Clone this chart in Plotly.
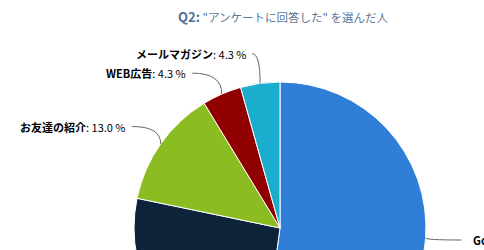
import math
import plotly.graph_objects as go

labels = ["Google検索", "Yahoo!検索", "お友達の紹介", "WEB広告", "メールマガジン"]
values = [12, 6, 3, 1, 1]
colors = ["#2f7ed8", "#0d233a", "#8bbc21", "#910000", "#1aadce"]
title_bold = "Q2:"
title_rest = "\"アンケートに回答した\" を選んだ人"

W, H = 484, 480
VIEW_H = 250
CX, CY, R = 280, 228, 146
DIST = 30
FONT = "Noto Sans CJK JP"

fig = go.Figure(go.Pie(
    labels=labels, values=values, sort=False, direction="clockwise", rotation=0,
    marker=dict(colors=colors, line=dict(color="white", width=1)),
    textinfo="none", hoverinfo="label+percent", showlegend=False,
    domain=dict(x=[(CX - R) / W, (CX + R) / W], y=[(H - CY - R) / H, (H - CY + R) / H]),
))

def px(x, y):
    return x / W, 1 - y / H

total = sum(values)
cum = 0
items = []
for lab, v in zip(labels, values):
    a0 = cum / total * 360
    cum += v
    a1 = cum / total * 360
    mid = math.radians((a0 + a1) / 2)
    s, c = math.sin(mid), math.cos(mid)
    side = 1 if s >= 0 else -1
    ly = CY - (R + DIST) * c
    items.append(dict(lab=lab, v=v, s=s, c=c, side=side, ly=ly))

# simple overlap avoidance on the left side (top to bottom)
left = sorted([it for it in items if it["side"] < 0], key=lambda d: d["ly"])
for i in range(1, len(left)):
    if left[i]["ly"] - left[i - 1]["ly"] < 19.5:
        left[i]["ly"] = left[i - 1]["ly"] + 19.5

annotations = []
shapes = []
for it in items:
    ly = it["ly"]
    if ly > VIEW_H:
        continue  # label lies below the visible area
    dy = ly - CY
    rr = R + DIST
    lx = CX + it["side"] * math.sqrt(max(rr * rr - dy * dy, 0))
    ex, ey = CX + R * it["s"], CY - R * it["c"]
    pct = it["v"] / total * 100
    txt = f"<b>{it['lab']}</b>: {pct:.1f} %"
    if it["side"] < 0:
        tx = lx - 8
        sx = lx - 4
        anchor = "right"
    else:
        tx = lx + 15
        sx = lx + 6
        anchor = "left"
    ax, ay = px(tx, ly)
    annotations.append(dict(x=ax, y=ay, xref="paper", yref="paper", text=txt, showarrow=False,
                            xanchor=anchor, yanchor="middle",
                            font=dict(family=FONT, size=11, color="#000000")))
    p0 = px(sx, ly)
    pc = px(ex, ly)
    p1 = px(ex, ey)
    shapes.append(dict(type="path", xref="paper", yref="paper",
                       path=f"M {p0[0]},{p0[1]} Q {pc[0]},{pc[1]} {p1[0]},{p1[1]}",
                       line=dict(color="#666666", width=1)))

tx, ty = px(283, 17)
annotations.append(dict(x=tx, y=ty, xref="paper", yref="paper", showarrow=False,
                        xanchor="center", yanchor="middle",
                        text=f"<b><span style='font-size:13px'>{title_bold}</span></b> "
                             f"<span style='color:#5a7896'>{title_rest}</span>",
                        font=dict(family=FONT, size=11.5, color="#4d7198")))

fig.update_layout(width=W, height=H, margin=dict(l=0, r=0, t=0, b=0),
                  paper_bgcolor="white", plot_bgcolor="white",
                  annotations=annotations, shapes=shapes)

fig.write_html("out.html", config={"displayModeBar": False})
